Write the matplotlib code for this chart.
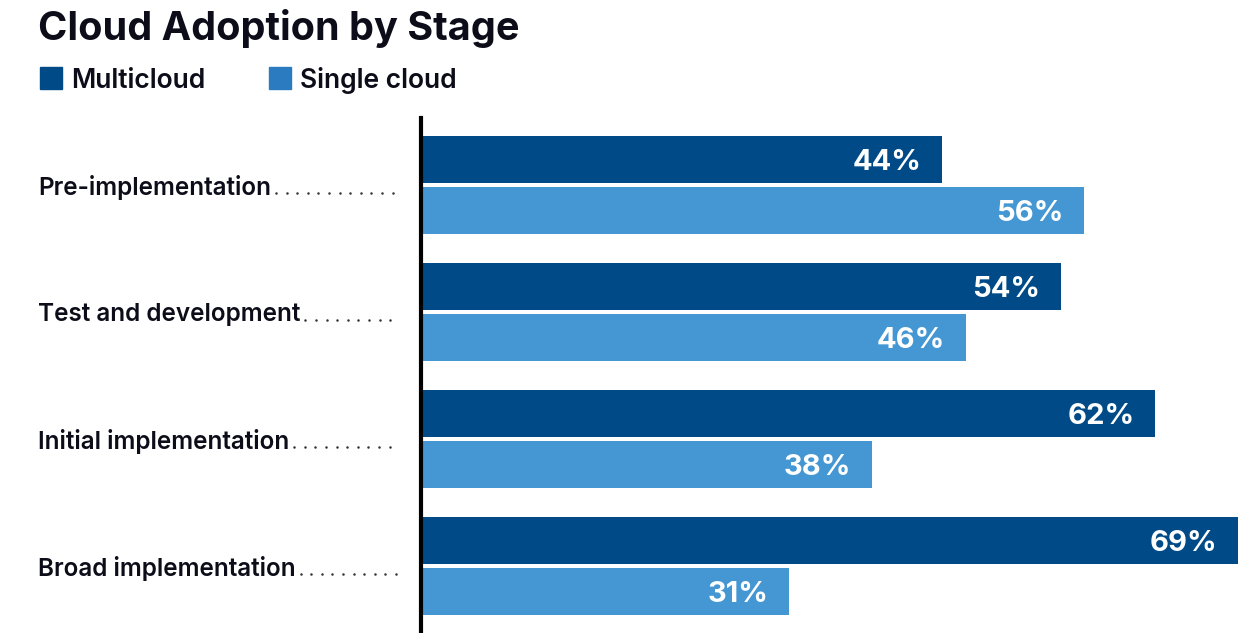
import numpy as np
import matplotlib
matplotlib.use('Agg')
import matplotlib.pyplot as plt
from matplotlib.patches import Rectangle

stages = ['Pre-implementation', 'Test and development',
          'Initial implementation', 'Broad implementation']
multicloud = [44, 54, 62, 69]
single_cloud = [56, 46, 38, 31]

dark = '#004b87'
light = '#4497d3'
legend_light = '#2a7bbf'
ink = '#0d0d1a'

plt.rcParams['font.family'] = ['Inter', 'DejaVu Sans']

W, H = 1258, 633
fig = plt.figure(figsize=(W/100, H/100), dpi=100)
ax = fig.add_axes([421/W, 0, 1 - 421/W, (633-118)/H])

y = np.arange(len(stages))
bh = 47/127
off = 25.5/127
ax.barh(y - off, multicloud, height=bh, color=dark, left=0.15)
ax.barh(y + off, single_cloud, height=bh, color=light, left=0.15)

for yi, v in zip(y - off, multicloud):
    ax.text(v - 1.6, yi, f'{v}%', color='white', ha='right',
            va='center_baseline', fontsize=21, fontweight='bold')
for yi, v in zip(y + off, single_cloud):
    ax.text(v - 1.6, yi, f'{v}%', color='white', ha='right',
            va='center_baseline', fontsize=21, fontweight='bold')

ax.set_xlim(0, (W - 421) / 11.81)
ax.set_ylim(len(stages) - 1 + 0.528, -0.528)
for s in ['top', 'right', 'bottom']:
    ax.spines[s].set_visible(False)
ax.spines['left'].set_linewidth(3)
ax.spines['left'].set_color('black')
ax.set_xticks([])
ax.set_yticks([])

# category labels with dot leaders
fig.canvas.draw()
r = fig.canvas.get_renderer()
for i, name in enumerate(stages):
    py = 1 - (185 + 127*i) / H
    t = fig.text(38/W, py, name, fontsize=17.5, fontweight='semibold',
                 color=ink, ha='left', va='center_baseline')
    bb = t.get_window_extent(r)
    x0 = bb.x1 + 5
    xs = np.arange(x0, 397, 10.6)
    fig.lines.append(plt.Line2D(xs/W, [1 - (185 + 127*i + 8)/H]*len(xs),
                                transform=fig.transFigure, ls='none',
                                marker='o', ms=1.8, color='#333333', mew=0))

# title and legend
fig.text(38/W, 1 - 24/H, 'Cloud Adoption by Stage', fontsize=28.5,
         fontweight='bold', color=ink, ha='left', va='center_baseline')
for xsq, col, lab in [(40, dark, 'Multicloud'), (269, legend_light, 'Single cloud')]:
    fig.patches.append(Rectangle((xsq/W, 1 - 89/H), 22/W, 22/H,
                                 transform=fig.transFigure, color=col))
    fig.text((xsq + 31)/W, 1 - 78/H, lab, fontsize=19, fontweight='semibold',
             color=ink, ha='left', va='center_baseline')

fig.savefig('out.png', dpi=100)
